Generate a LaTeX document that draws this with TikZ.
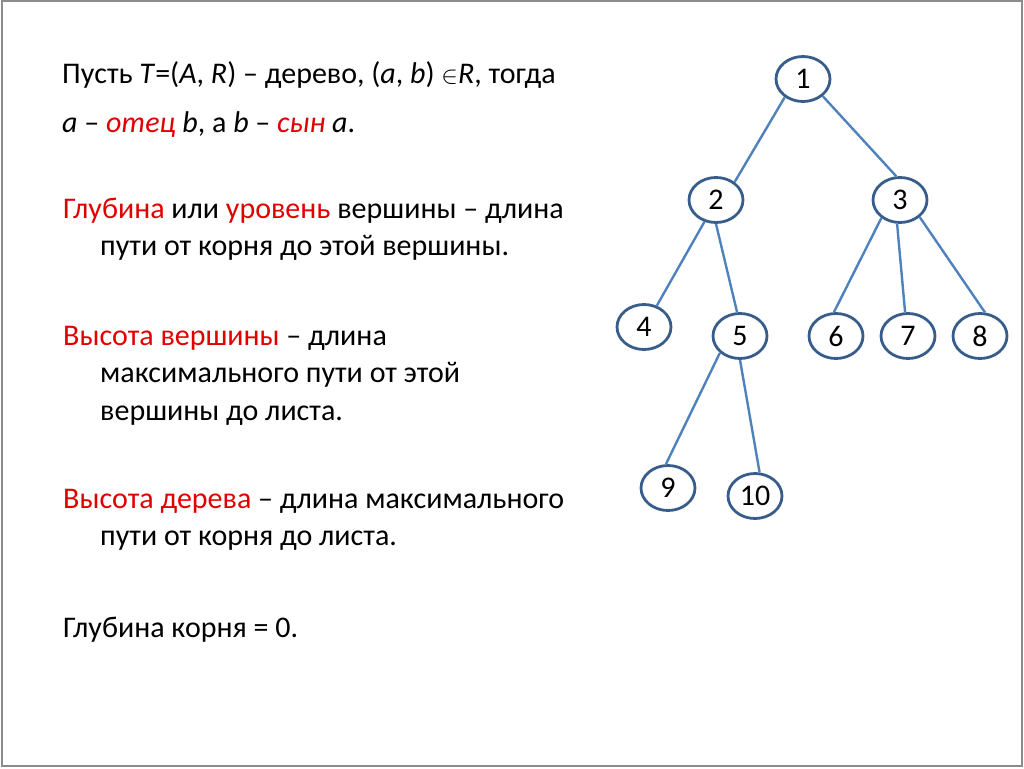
\documentclass[tikz,border=0pt]{standalone}
\usepackage{fontspec}
\setmainfont{Carlito}
\usetikzlibrary{shapes.geometric,positioning}
\definecolor{edgeblue}{HTML}{4F81BD}
\definecolor{rimblue}{HTML}{385D8A}
\definecolor{termred}{HTML}{E00000}
\newcommand{\term}[1]{\textcolor{termred}{#1}}

\begin{document}
\begin{tikzpicture}[x=1pt,y=-1pt,
  vertex/.style={ellipse,draw=rimblue,line width=2.8pt,minimum width=54pt,minimum height=45pt,inner sep=0pt,font=\fontsize{30}{32}\selectfont},
  line/.style={anchor=base west,inner sep=0pt,font=\fontsize{30}{36}\selectfont}]
\useasboundingbox (0,0) rectangle (1024,768);
\draw[gray!90,line width=2pt] (1.5,1.5) rectangle (1021.5,765.5);

\node[line] (p_1) at (62,83) {Пусть \textit{T}=(\textit{A}, \textit{R}) – дерево, (\textit{a}, \textit{b}) $\in$\textit{R}, тогда};
\node[line] (p_2) at (62,132) {\textit{a} – \term{\textit{отец}} \textit{b}, а \textit{b} – \term{\textit{сын}} \textit{a}.};
\node[line] (p_3) at (63,218) {\term{Глубина} или \term{уровень} вершины – длина};
\node[line] (p_4) at (100,255) {пути от корня до этой вершины.};
\node[line] (p_5) at (63,345) {\term{Высота вершины} – длина};
\node[line] (p_6) at (100,382) {максимального пути от этой};
\node[line] (p_7) at (100,420) {вершины до листа.};
\node[line] (p_8) at (63,508) {\term{Высота дерева} – длина максимального};
\node[line] (p_9) at (100,545) {пути от корня до листа.};
\node[line] (p_10) at (63,637) {Глубина корня = 0.};

\node[vertex] (v_1) at (803,79) {1};
\node[vertex] (v_2) at (716,200) {2};
\node[vertex] (v_3) at (900,200) {3};
\node[vertex] (v_4) at (644,327) {4};
\node[vertex] (v_5) at (740,336) {5};
\node[vertex] (v_6) at (836,336) {6};
\node[vertex] (v_7) at (908,336) {7};
\node[vertex] (v_8) at (980,336) {8};
\node[vertex] (v_9) at (668,488) {9};
\node[vertex] (v_10) at (755,496) {10};

\path[draw=edgeblue,line width=2.4pt]
(v_1.225) edge (v_2.44)
(v_1.319) edge (v_3.99)

(v_2.242) edge (v_4.59)
(v_2.270) edge (v_5.97)

(v_3.224) edge (v_6.95)
(v_3.263) edge (v_7.97)
(v_3.319) edge (v_8.78)

(v_5.220) edge (v_9.95)
(v_5.270) edge (v_10.79)
; %end path
\end{tikzpicture}
\end{document}
